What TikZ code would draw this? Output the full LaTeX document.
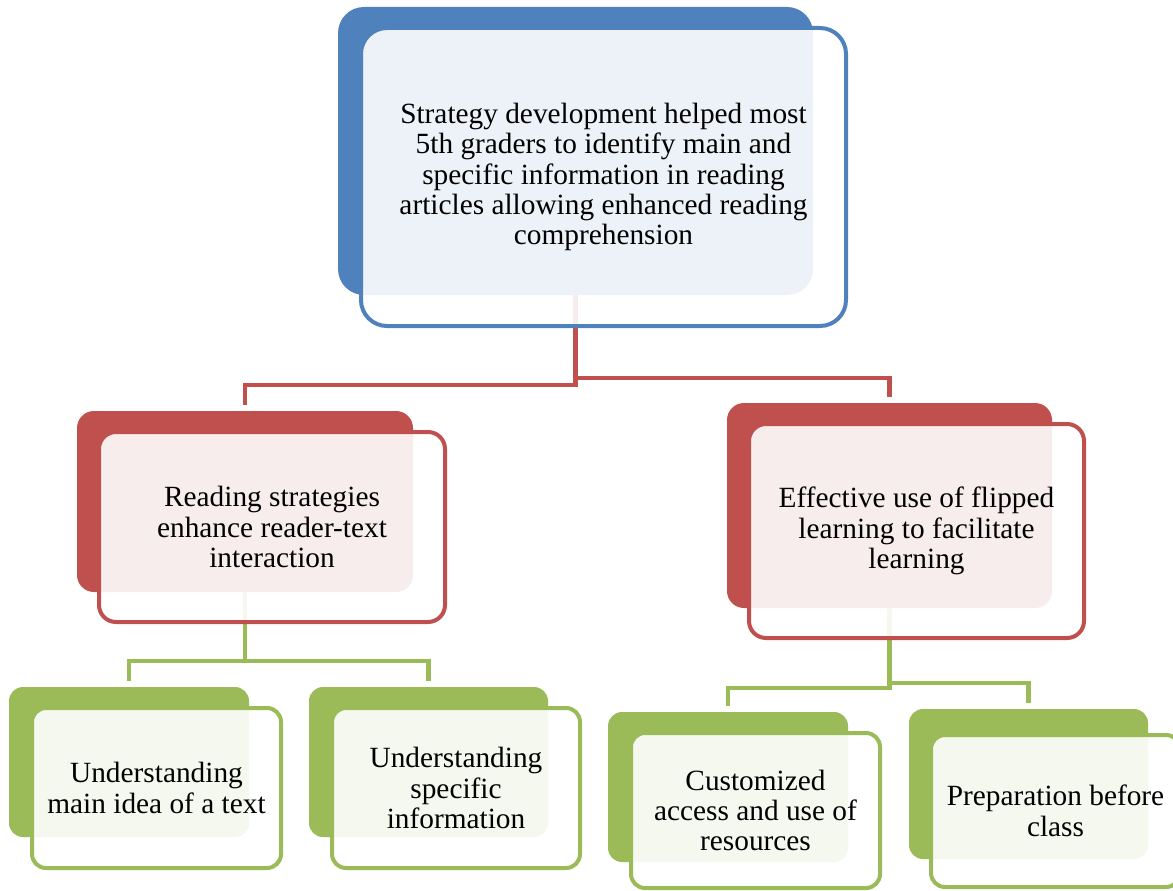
\documentclass[tikz,border=0pt]{standalone}
\usepackage{fontspec}
\setmainfont{Liberation Serif}
\usetikzlibrary{fit}
\definecolor{cblue}{HTML}{4F81BD}
\definecolor{cred}{HTML}{C0504D}
\definecolor{cgreen}{HTML}{9BBB59}
\pgfdeclarelayer{background}
\pgfsetlayers{background,main}
\begin{document}
\begin{tikzpicture}[x=0.75pt,y=-0.75pt,
  backbox/.style={fill=#1, draw=none, inner sep=0pt, outer sep=0pt},
  frontbox/.style={draw=#1, line width=3pt, fill=white, fill opacity=0.9, draw opacity=1, inner sep=0pt, outer sep=0pt},
  lbl/.style={align=center, font=\rmfamily\fontsize{22}{22.8}\selectfont, text=black, inner sep=0pt},
  conn/.style={draw=#1, line width=3.5pt, shorten >=4.5pt},
  rtop/.style={rounded corners=19.5pt},
  rmid/.style={rounded corners=12.75pt},
  rlow/.style={rounded corners=10.5pt}]
\useasboundingbox (0,0) rectangle (1173,891);
% back boxes
\node[backbox=cblue, rtop, fit={(338,7)(813,295)}] (topB) {};
\node[backbox=cred, rmid, fit={(77,411)(413,592)}] (LB) {};
\node[backbox=cred, rmid, fit={(727,403)(1052,608)}] (RB) {};
\node[backbox=cgreen, rlow, fit={(9,687)(249,837)}] (AB) {};
\node[backbox=cgreen, rlow, fit={(309,687)(548,837)}] (BB) {};
\node[backbox=cgreen, rlow, fit={(608,712)(848,862)}] (CB) {};
\node[backbox=cgreen, rlow, fit={(909,709)(1148,859)}] (DB) {};
% front boxes
\node[frontbox=cblue, rtop, fit={(361,28)(846,326)}] (topF) {};
\node[frontbox=cred, rmid, fit={(99,432)(445,622)}] (LF) {};
\node[frontbox=cred, rmid, fit={(749,424)(1084,638)}] (RF) {};
\node[frontbox=cgreen, rlow, fit={(32,708)(281,868)}] (AF) {};
\node[frontbox=cgreen, rlow, fit={(332,708)(580,868)}] (BF) {};
\node[frontbox=cgreen, rlow, fit={(631,733)(880,888)}] (CF) {};
\node[frontbox=cgreen, rlow, fit={(931,735)(1180,887)}] (DF) {};
% labels
\node[lbl] (topT) at (topF.center) {Strategy development helped most\\5th graders to identify main and\\specific information in reading\\articles allowing enhanced reading\\comprehension};
\node[lbl] (LT) at (LF.center) {Reading strategies\\enhance reader-text\\interaction};
\node[lbl] (RT) at (RF.center) {Effective use of flipped\\learning to facilitate\\learning};
\node[lbl] (AT) at (AF.center) {Understanding\\main idea of a text};
\node[lbl] (BT) at (BF.center) {Understanding\\specific\\information};
\node[lbl] (CT) at (CF.center) {Customized\\access and use of\\resources};
\node[lbl] (DT) at (DF.center) {Preparation before\\class};
% connectors
\begin{pgfonlayer}{background}
\draw[conn=cred] (topB.south) -- ++(0,90) -| (LB.north);
\draw[conn=cred] (topB.south) -- ++(0,83) -| (RB.north);
\draw[conn=cgreen] (LB.south) -- ++(0,69) -| (AB.north);
\draw[conn=cgreen] (LB.south) -- ++(0,69) -| (BB.north);
\draw[conn=cgreen] (RB.south) -- ++(0,80) -| (CB.north);
\draw[conn=cgreen] (RB.south) -- ++(0,75) -| (DB.north);
\end{pgfonlayer}
\end{tikzpicture}
\end{document}
